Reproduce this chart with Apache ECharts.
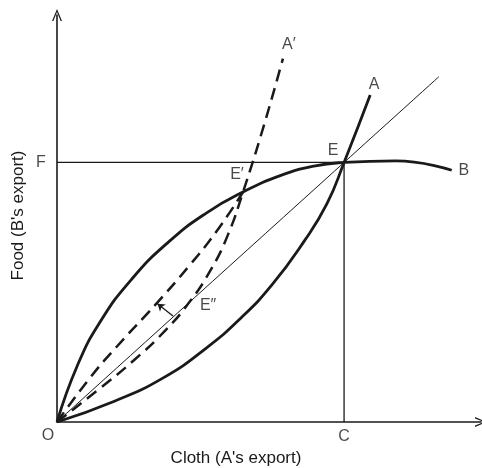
<!DOCTYPE html>
<html>
<head>
<meta charset="utf-8">
<script src="https://cdn.jsdelivr.net/npm/echarts@6/dist/echarts.min.js"></script>
<style>
  html, body { margin: 0; padding: 0; background: #fff; }
  #chart { width: 482px; height: 468px; }
</style>
</head>
<body>
<div id="chart"></div>
<script>
// axis extents (C = F = 10)
var xMax = 14.77;
var yMax = 15.68;

// B's offer curve O -> E' -> E -> B
var curveB = [[0, 0], [0.7, 2.15], [1.5, 3.85], [2.6, 5.5], [3.9, 6.95], [5.2, 8.05],
  [6.48, 8.86], [7.8, 9.5], [8.95, 9.86], [10, 10], [11.8, 10.06], [13.75, 9.7]];
// A's offer curve O -> E -> A
var curveA = [[0, 0], [2.0, 0.8], [3.7, 1.7], [5.2, 2.85], [6.4, 4.0], [7.5, 5.3],
  [8.6, 6.95], [9.4, 8.4], [10, 10], [10.91, 12.6]];
// shifted offer curve O -> E'' -> E' -> A'
var curveA2 = [[0, 0], [1.5, 1.3], [2.7, 2.4], [3.75, 3.5], [4.6, 4.6], [5.35, 5.85],
  [5.95, 7.2], [6.48, 8.86], [7.2, 11.4], [7.87, 14.0]];
// dashed line O -> E'
var curveUp = [[0, 0], [1.15, 1.7], [2.08, 2.9], [3.47, 4.57], [4.63, 6.05], [5.56, 7.35], [6.48, 8.86]];
// terms of trade ray
var ray = [[0, 0], [13.3, 13.3]];
var fLine = [[0, 10], [10, 10]];
var cLine = [[10, 0], [10, 10]];
var arrowLine = [[4.04, 4.08], [3.5, 4.56]];

// point labels
var labels = [
  { name: 'A\u2032', value: [7.87, 14.0], pos: [6, -14] },
  { name: 'A', value: [10.91, 12.6], pos: [4, -10] },
  { name: 'B', value: [13.75, 9.7], pos: [12, 0] },
  { name: 'E', value: [10, 10], pos: [-11, -12] },
  { name: 'E\u2032', value: [6.48, 8.86], pos: [-6, -17] },
  { name: 'E\u2033', value: [4.6, 4.6], pos: [19, 3] },
  { name: 'F', value: [0, 10], pos: [-16, 0] },
  { name: 'O', value: [0, 0], pos: [-9, 14] },
  { name: 'C', value: [10, 0], pos: [0, 15] }
];

var ink = '#1a1a1a';
var chart = echarts.init(document.getElementById('chart'));

function curve(data, width, dashed) {
  return {
    type: 'line', data: data, smooth: 0.5, showSymbol: false, silent: true,
    lineStyle: { color: ink, width: width, type: dashed ? [12, 7] : 'solid' }
  };
}

var arrowHead = 'path://M0,12 L5,0 L10,12 L8.6,12 L5,3 L1.4,12 Z';

chart.setOption({
  animation: false,
  grid: { left: 57, right: 1, top: 15, bottom: 46, outerBoundsMode: 'none', containLabel: false },
  xAxis: {
    type: 'value', min: 0, max: xMax,
    name: "Cloth (A's export)", nameLocation: 'middle', nameGap: 28,
    nameTextStyle: { fontFamily: 'Liberation Sans', fontSize: 17, color: ink, padding: [0, 66, 0, 0] },
    axisLine: { lineStyle: { color: ink, width: 1.6 }, symbol: ['none', arrowHead], symbolSize: [10, 12] },
    axisTick: { show: false }, axisLabel: { show: false }, splitLine: { show: false }
  },
  yAxis: {
    type: 'value', min: 0, max: yMax,
    name: "Food (B's export)", nameLocation: 'middle', nameGap: 30,
    nameTextStyle: { fontFamily: 'Liberation Sans', fontSize: 17, color: ink, padding: [0, 0, 0, 6] },
    axisLine: { lineStyle: { color: ink, width: 1.6 }, symbol: ['none', arrowHead], symbolSize: [10, 12] },
    axisTick: { show: false }, axisLabel: { show: false }, splitLine: { show: false }
  },
  series: [
    curve(ray, 1, false),
    curve(fLine, 1.3, false),
    curve(cLine, 1.3, false),
    curve(curveB, 2.8, false),
    curve(curveA, 2.8, false),
    curve(curveA2, 2.5, true),
    curve(curveUp, 2.5, true),
    {
      type: 'lines', coordinateSystem: 'cartesian2d', silent: true,
      symbol: ['none', 'arrow'], symbolSize: 7,
      lineStyle: { color: ink, width: 1.3, opacity: 1 },
      data: [{ coords: arrowLine }]
    },
    {
      type: 'scatter', symbolSize: 0, silent: true,
      data: labels.map(function (d) {
        return { name: d.name, value: d.value, label: { offset: d.pos } };
      }),
      label: {
        show: true, position: 'inside', formatter: '{b}',
        fontFamily: 'Liberation Sans', fontSize: 16, color: ink
      }
    }
  ]
});
</script>
</body>
</html>
